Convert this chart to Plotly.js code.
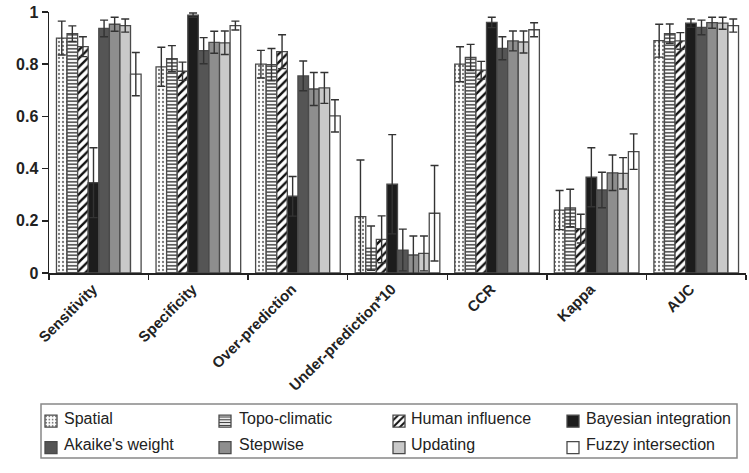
<!DOCTYPE html>
<html>
<head>
<meta charset="utf-8">
<script src="https://cdn.plot.ly/plotly-3.0.1.min.js"></script>
<style>html,body{margin:0;padding:0;background:#fff;}#chart{width:749px;height:473px;}</style>
</head>
<body>
<div id="chart"></div>
<script>
var categories = ["Sensitivity", "Specificity", "Over-prediction", "Under-prediction*10", "CCR", "Kappa", "AUC"];
var seriesNames = ["Spatial", "Topo-climatic", "Human influence", "Bayesian integration", "Akaike's weight", "Stepwise", "Updating", "Fuzzy intersection"];

var spatial     = [0.900, 0.790, 0.800, 0.216, 0.800, 0.241, 0.890];
var spatialErr  = [0.065, 0.075, 0.053, 0.217, 0.067, 0.075, 0.063];
var topo        = [0.917, 0.821, 0.798, 0.095, 0.826, 0.249, 0.917];
var topoErr     = [0.030, 0.050, 0.062, 0.085, 0.050, 0.072, 0.037];
var human       = [0.867, 0.773, 0.848, 0.129, 0.777, 0.170, 0.889];
var humanErr    = [0.038, 0.035, 0.065, 0.090, 0.034, 0.055, 0.032];
var bayes       = [0.346, 0.988, 0.294, 0.340, 0.960, 0.367, 0.957];
var bayesErr    = [0.134, 0.008, 0.076, 0.190, 0.020, 0.113, 0.016];
var akaike      = [0.937, 0.852, 0.755, 0.088, 0.861, 0.318, 0.941];
var akaikeErr   = [0.032, 0.050, 0.057, 0.080, 0.044, 0.068, 0.028];
var stepwise    = [0.953, 0.884, 0.705, 0.069, 0.889, 0.384, 0.959];
var stepwiseErr = [0.027, 0.042, 0.063, 0.073, 0.038, 0.068, 0.021];
var updating    = [0.948, 0.882, 0.709, 0.075, 0.885, 0.382, 0.957];
var updatingErr = [0.025, 0.045, 0.059, 0.067, 0.042, 0.060, 0.023];
var fuzzy       = [0.762, 0.948, 0.602, 0.229, 0.932, 0.465, 0.948];
var fuzzyErr    = [0.083, 0.017, 0.062, 0.183, 0.027, 0.068, 0.025];

var yTickVals = [0, 0.2, 0.4, 0.6, 0.8, 1];
var yTickText = ["0", "0.2", "0.4", "0.6", "0.8", "1"];

var values = [spatial, topo, human, bayes, akaike, stepwise, updating, fuzzy];
var errors = [spatialErr, topoErr, humanErr, bayesErr, akaikeErr, stepwiseErr, updatingErr, fuzzyErr];
var fills = ["#ffffff", "#ffffff", "#ffffff", "#1c1c1c", "#555555", "#8e8e8e", "#c9c9c9", "#ffffff"];
var patterns = [
  {shape: ".", fgcolor: "#777777", bgcolor: "#ffffff", size: 4, solidity: 0.25},
  {shape: "-", fgcolor: "#333333", bgcolor: "#ffffff", size: 3.5, solidity: 0.4},
  {shape: "/", fgcolor: "#111111", bgcolor: "#ffffff", size: 6, solidity: 0.4},
  null, null, null, null, null
];

var FONT = "Liberation Sans, Arial, Helvetica, sans-serif";
// legend icons come from Plotly's legend (blank entry text); labels are annotations
var traces = seriesNames.map(function (name, i) {
  var marker = {color: fills[i], line: {color: "#4a4a4a", width: 1.3}};
  if (patterns[i]) marker.pattern = patterns[i];
  return {
    type: "bar",
    name: " ",
    meta: name,
    x: categories,
    y: values[i],
    marker: marker,
    error_y: {type: "data", array: errors[i], visible: true, color: "#333333", thickness: 1.4, width: 4}
  };
});

var W = 749, H = 473, ML = 49, MR = 3, MT = 12, MB = 200;
var pw = W - ML - MR, ph = H - MT - MB;
function px2x(p) { return (p - ML) / pw; }
function py2y(p) { return (H - MB - p) / ph; }

var legendTextX = [62, 237, 409, 584];
var legendRowY = [418, 444];
var annotations = seriesNames.map(function (name, i) {
  return {
    xref: "paper", yref: "paper",
    x: px2x(legendTextX[i % 4]), y: py2y(legendRowY[Math.floor(i / 4)]),
    xanchor: "left", yanchor: "middle",
    text: name, showarrow: false,
    font: {family: FONT, size: 16, color: "#222222"}
  };
});

var layout = {
  width: W,
  height: H,
  margin: {l: ML, r: MR, t: MT, b: MB},
  paper_bgcolor: "#ffffff",
  plot_bgcolor: "#ffffff",
  barmode: "group",
  bargap: 0.15,
  bargroupgap: 0,
  font: {family: FONT, color: "#222222"},
  showlegend: true,
  legend: {
    orientation: "h",
    xref: "container", yref: "container",
    x: 31 / W, xanchor: "left",
    y: 1 - 403 / H, yanchor: "top",
    bgcolor: "rgba(0,0,0,0)",
    borderwidth: 0,
    font: {family: FONT, size: 18, color: "#222222"},
    entrywidth: 129,
    entrywidthmode: "pixels",
    itemwidth: 30,
    traceorder: "normal"
  },
  annotations: annotations,
  shapes: [{
    type: "rect", xref: "paper", yref: "paper",
    x0: px2x(41), x1: px2x(737), y0: py2y(458), y1: py2y(404),
    line: {color: "#888888", width: 1.5}, fillcolor: "rgba(0,0,0,0)", layer: "above"
  }],
  xaxis: {
    type: "category",
    showline: true, linecolor: "#222222", linewidth: 1.5,
    ticks: "outside", tickson: "boundaries", ticklen: 5, tickcolor: "#222222", tickwidth: 1.5,
    tickangle: -45,
    ticklabelshift: -6,
    tickfont: {family: FONT, size: 15, color: "#222222", weight: "bold"},
    showgrid: false, zeroline: false, fixedrange: true
  },
  yaxis: {
    range: [0, 1],
    tickvals: yTickVals, ticktext: yTickText,
    showline: true, linecolor: "#222222", linewidth: 1.5,
    ticks: "outside", ticklen: 6, tickcolor: "#222222", tickwidth: 1.5,
    tickfont: {family: FONT, size: 16, color: "#222222", weight: "bold"},
    showgrid: false, zeroline: false, fixedrange: true
  }
};

Plotly.newPlot("chart", traces, layout, {staticPlot: true, displayModeBar: false});
</script>
</body>
</html>
